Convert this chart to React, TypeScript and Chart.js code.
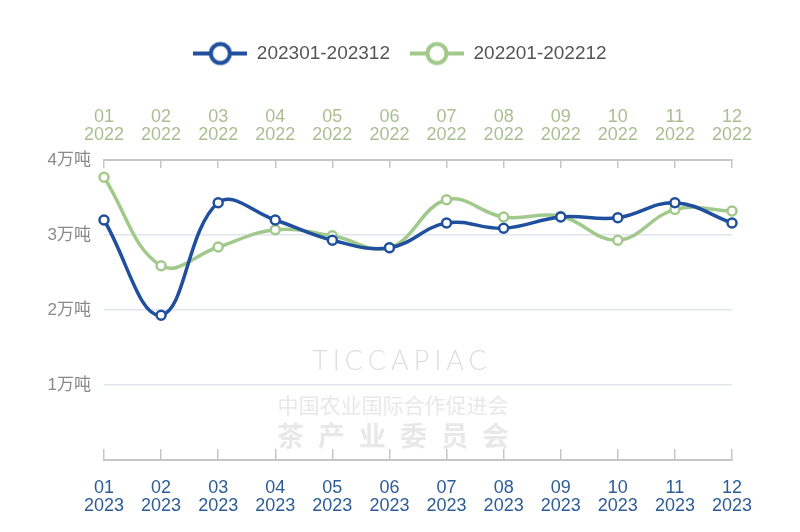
import React, { useEffect, useRef } from 'react';
import { Chart, registerables } from 'chart.js';

Chart.register(...registerables);

const months = ['01', '02', '03', '04', '05', '06', '07', '08', '09', '10', '11', '12'];
const labels2023 = months.map((m) => [m, '2023']);
const labels2022 = months.map((m) => [m, '2022']);
const series2023 = [3.2, 1.93, 3.43, 3.2, 2.93, 2.83, 3.16, 3.09, 3.24, 3.23, 3.43, 3.16];
const series2022 = [3.77, 2.59, 2.84, 3.07, 2.99, 2.83, 3.47, 3.24, 3.25, 2.93, 3.34, 3.32];
const seriesNames = ['202301-202312', '202201-202212'];
const yTicks = [1, 2, 3, 4];
const yUnit = '万吨';

const BLUE = '#1f4f9d';
const GREEN = '#a2c98c';

function makeIcon(color: string) {
  const c = document.createElement('canvas');
  c.width = 54;
  c.height = 28;
  const ctx = c.getContext('2d')!;
  ctx.strokeStyle = color;
  ctx.lineWidth = 4;
  ctx.beginPath();
  ctx.moveTo(0, 14);
  ctx.lineTo(54, 14);
  ctx.stroke();
  ctx.beginPath();
  ctx.arc(27, 14, 9.5, 0, Math.PI * 2);
  ctx.fillStyle = '#fff';
  ctx.fill();
  ctx.stroke();
  return c;
}

const watermark = {
  id: 'watermark',
  beforeDatasetsDraw(chart: any) {
    const ctx = chart.ctx as CanvasRenderingContext2D;
    ctx.save();
    ctx.textAlign = 'center';
    ctx.textBaseline = 'middle';
    ctx.fillStyle = '#dedede';
    (ctx as any).letterSpacing = '5px';
    ctx.font = '300 27px Lato, "Open Sans", sans-serif';
    ctx.fillText('TICCAPIAC', 394, 353);
    (ctx as any).letterSpacing = '0px';
    ctx.fillStyle = '#e8e8e8';
    ctx.font = '21px "Noto Sans CJK SC", sans-serif';
    ctx.fillText('中国农业国际合作促进会', 385, 397);
    (ctx as any).letterSpacing = '14px';
    ctx.font = 'bold 27px "Noto Sans CJK SC", sans-serif';
    ctx.fillText('茶产业委员会', 392, 428);
    ctx.restore();
  },
};

export default function App() {
  const ref = useRef<HTMLCanvasElement | null>(null);

  useEffect(() => {
    if (!ref.current) return;
    const icons = [makeIcon(BLUE), makeIcon(GREEN)];
    const chart = new Chart(ref.current, {
      type: 'line',
      data: {
        labels: labels2023 as any,
        datasets: [
          {
            label: seriesNames[0],
            data: series2023,
            xAxisID: 'x',
            yAxisID: 'y',
            borderColor: BLUE,
            backgroundColor: '#fff',
            borderWidth: 3.5,
            tension: 0.4,
            pointRadius: 4.5,
            pointBorderWidth: 2.5,
            pointBackgroundColor: '#fff',
            pointBorderColor: BLUE,
            order: 1,
          },
          {
            label: seriesNames[1],
            data: series2022,
            xAxisID: 'x2',
            yAxisID: 'y',
            borderColor: GREEN,
            backgroundColor: '#fff',
            borderWidth: 3.5,
            tension: 0.4,
            pointRadius: 4.5,
            pointBorderWidth: 2.5,
            pointBackgroundColor: '#fff',
            pointBorderColor: GREEN,
            order: 2,
          },
        ],
      },
      options: {
        animation: false,
        responsive: false,
        maintainAspectRatio: false,
        layout: { padding: { top: 16, right: 0, bottom: 0, left: 0 } },
        plugins: {
          tooltip: { enabled: false },
          legend: {
            position: 'top',
            labels: {
              usePointStyle: true,
              pointStyleWidth: 54,
              padding: 20,
              color: '#555',
              font: { size: 19, family: 'Liberation Sans, Arial, sans-serif' },
              generateLabels: (c: any) => {
                const items = (Chart.defaults.plugins.legend.labels as any).generateLabels(c);
                items.forEach((it: any, i: number) => {
                  it.pointStyle = icons[i];
                });
                return items;
              },
            },
          },
        },
        scales: {
          x: {
            type: 'category',
            position: 'bottom',
            offset: false,
            grid: {
              display: true,
              drawOnChartArea: false,
              tickLength: -11,
              color: '#c6c6c6',
              lineWidth: 1.5,
            },
            border: { display: true, color: '#c6c6c6', width: 2 },
            ticks: {
              color: '#2d5c97',
              padding: 30,
              maxRotation: 0,
              autoSkip: false,
              font: { size: 18, family: 'Liberation Sans, Arial, sans-serif', lineHeight: 1.0 },
            },
            afterFit: (s: any) => {
              s.height = 64;
            },
          },
          x2: {
            type: 'category',
            position: 'top',
            offset: false,
            labels: labels2022 as any,
            grid: {
              display: true,
              drawOnChartArea: false,
              tickLength: -8,
              color: '#c6c6c6',
              lineWidth: 1.5,
            },
            border: { display: true, color: '#c6c6c6', width: 2 },
            ticks: {
              color: '#a9bf90',
              padding: 24,
              maxRotation: 0,
              autoSkip: false,
              font: { size: 18, family: 'Liberation Sans, Arial, sans-serif', lineHeight: 1.0 },
            },
            afterFit: (s: any) => {
              s.height = 87;
            },
          },
          y: {
            min: 0,
            max: 4,
            afterBuildTicks: (s: any) => {
              s.ticks = yTicks.map((v) => ({ value: v }));
            },
            grid: {
              drawTicks: false,
              color: (c: any) => (c.tick && c.tick.value === 4 ? 'rgba(0,0,0,0)' : '#dfe5ec'),
              lineWidth: 1.5,
            },
            border: { display: false },
            ticks: {
              color: '#8a8a8a',
              padding: 13,
              font: { size: 17, family: 'Liberation Sans, "Noto Sans CJK SC", sans-serif' },
              callback: (v: any) => v + yUnit,
            },
            afterFit: (s: any) => {
              s.width = 96;
            },
          },
          yr: {
            position: 'right',
            display: true,
            min: 0,
            max: 4,
            grid: { display: false, drawOnChartArea: false, drawTicks: false },
            border: { display: false },
            ticks: { display: false },
            afterFit: (s: any) => {
              s.width = 60;
            },
          },
        },
      },
      plugins: [watermark],
    } as any);
    return () => chart.destroy();
  }, []);

  return (
    <div style={{ width: 784, height: 516 }}>
      <canvas ref={ref} width={784} height={516} style={{ display: 'block' }} />
    </div>
  );
}
